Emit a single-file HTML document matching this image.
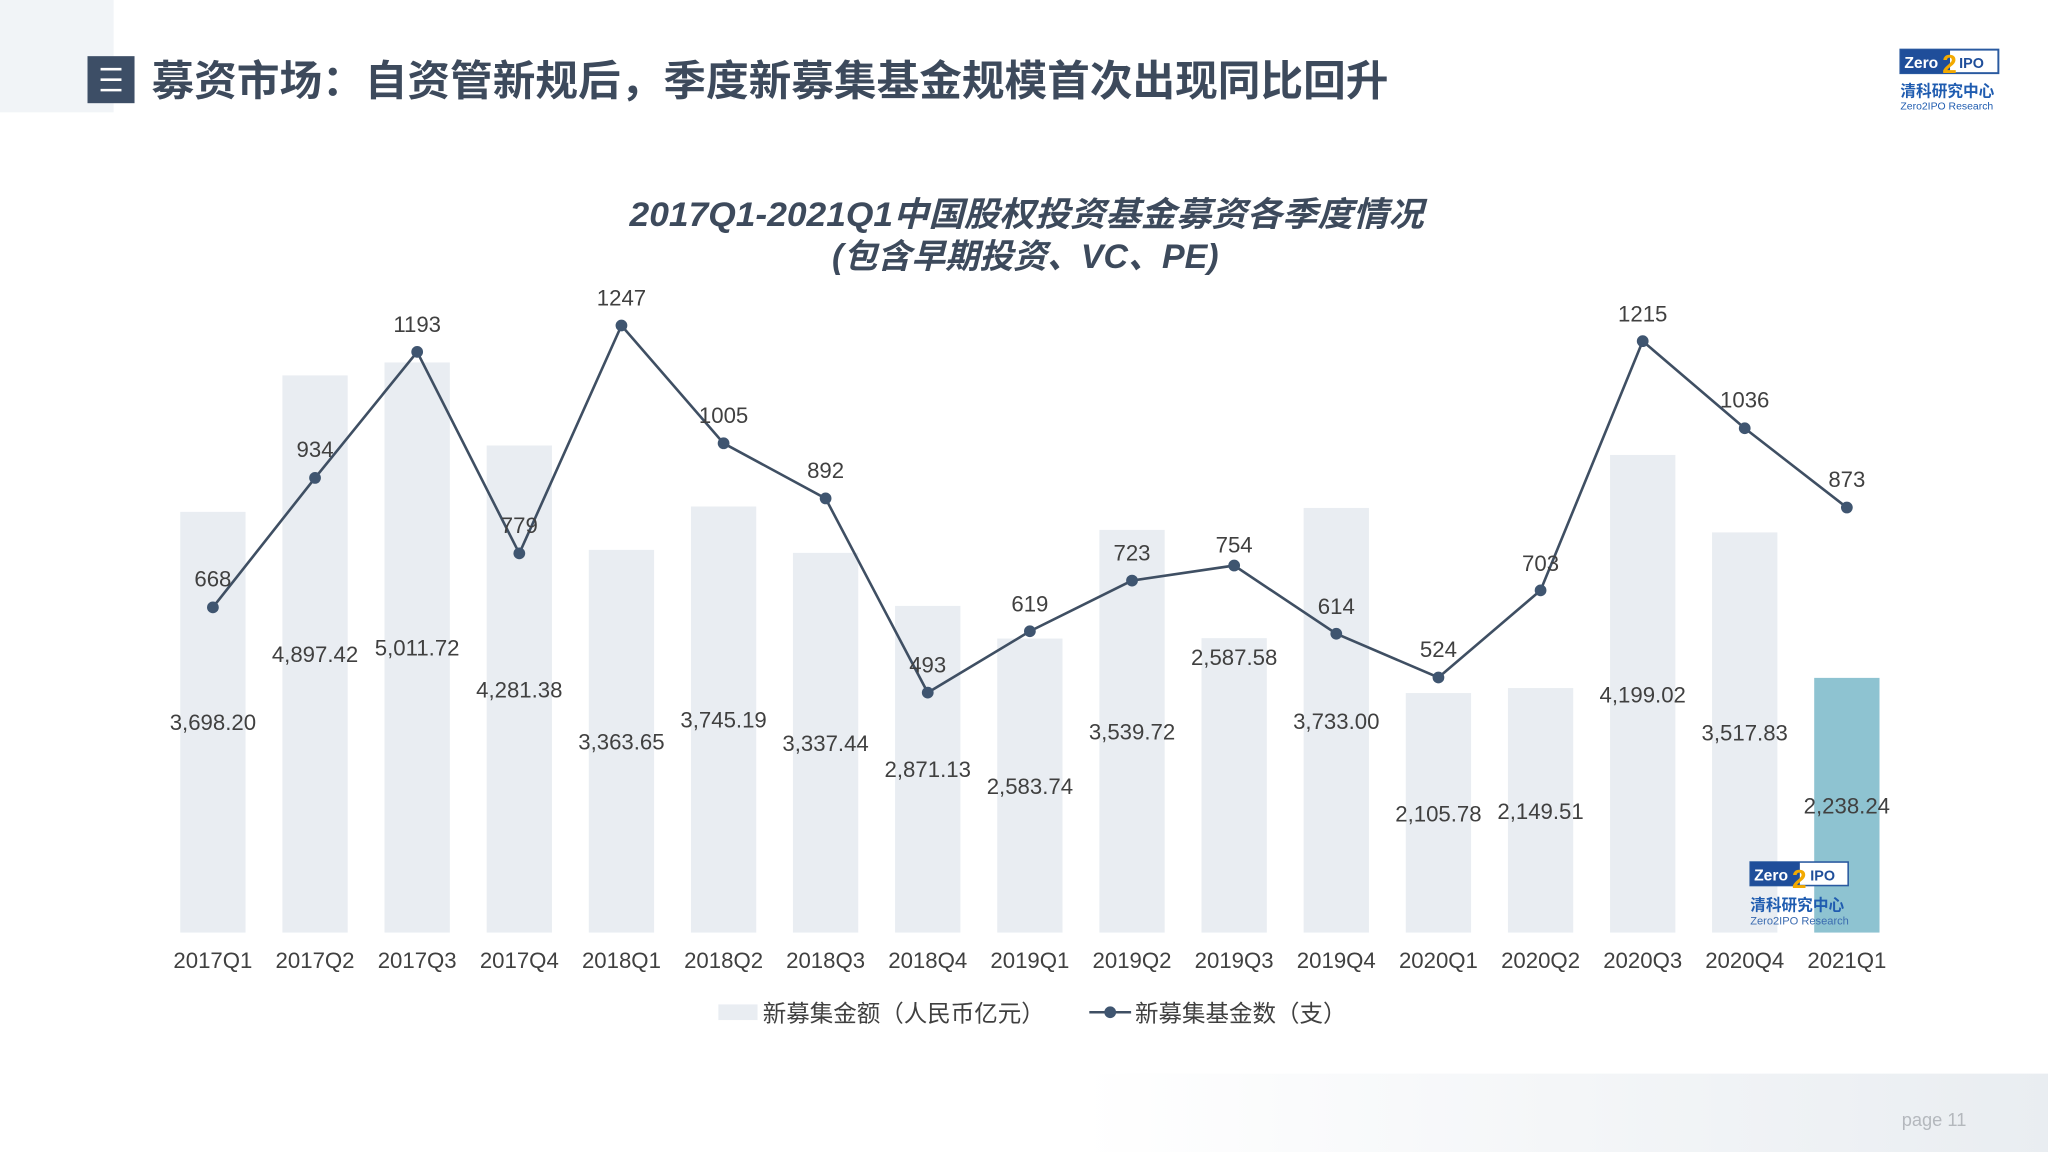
<!DOCTYPE html>
<html><head><meta charset="utf-8"><style>
html,body{margin:0;padding:0;background:#fff;}
svg{display:block;}
text{font-family:"Liberation Sans","Noto Sans CJK SC",sans-serif;}
</style></head><body>
<svg width="2048" height="1152" viewBox="0 0 1568 882" preserveAspectRatio="none" xmlns="http://www.w3.org/2000/svg">
<defs>
<linearGradient id="fg" x1="0" x2="1" y1="0" y2="0"><stop offset="0" stop-color="#ffffff"/><stop offset="1" stop-color="#e9edf1"/></linearGradient>
</defs>
<rect x="0" y="0" width="87" height="86" fill="#f1f4f7"/>
<rect x="828" y="822" width="740" height="60" fill="url(#fg)"/>
<text x="1456" y="862" font-size="14" fill="#b4b8bd">page  11</text>
<rect x="67" y="43" width="36" height="36" fill="#3d4e66"/>
<g stroke="#fff" stroke-width="2"><line x1="77" y1="53" x2="93" y2="53"/><line x1="77" y1="61" x2="93" y2="61"/><line x1="77" y1="69" x2="93" y2="69"/></g>
<text x="116" y="73" font-size="32" font-weight="bold" fill="#3d4a5c" textLength="947" lengthAdjust="spacingAndGlyphs">募资市场：自资管新规后，季度新募集基金规模首次出现同比回升</text>
<g>
<rect x="1455" y="38" width="75" height="18" fill="#fff" stroke="#2a5aa0" stroke-width="1.5"/>
<rect x="1455" y="38" width="38" height="18" fill="#1f4e9a"/>
<text x="1458" y="52" font-size="12" font-weight="bold" fill="#fff">Zero</text>
<text x="1500" y="52" font-size="11" font-weight="bold" fill="#1f4e9a">IPO</text>
<text x="1487" y="56" font-size="20" font-weight="bold" fill="#f2a900">2</text>
<text x="1455" y="74" font-size="12" font-weight="bold" fill="#1f5cb0">清科研究中心</text>
<text x="1455" y="84" font-size="8" fill="#1f5cb0">Zero2IPO Research</text>
</g>
<text x="482" y="173" font-size="26" font-weight="bold" font-style="italic" fill="#3d4a5c" textLength="608" lengthAdjust="spacingAndGlyphs">2017Q1-2021Q1中国股权投资基金募资各季度情况</text>
<text x="785" y="205" text-anchor="middle" font-size="26" font-weight="bold" font-style="italic" fill="#3d4a5c">(包含早期投资、VC、PE)</text>
<g fill="#e9edf2">
<rect x="138" y="391.9" width="50" height="322.1"/>
<rect x="216.2" y="287.4" width="50" height="426.6"/>
<rect x="294.4" y="277.5" width="50" height="436.5"/>
<rect x="372.6" y="341.1" width="50" height="372.9"/>
<rect x="450.8" y="421.0" width="50" height="293"/>
<rect x="529" y="387.8" width="50" height="326.2"/>
<rect x="607.1" y="423.3" width="50" height="290.7"/>
<rect x="685.3" y="463.9" width="50" height="250.1"/>
<rect x="763.5" y="488.9" width="50" height="225.1"/>
<rect x="841.7" y="405.7" width="50" height="308.3"/>
<rect x="919.9" y="488.6" width="50" height="225.4"/>
<rect x="998.1" y="388.9" width="50" height="325.1"/>
<rect x="1076.3" y="530.6" width="50" height="183.4"/>
<rect x="1154.5" y="526.8" width="50" height="187.2"/>
<rect x="1232.7" y="348.3" width="50" height="365.7"/>
<rect x="1310.8" y="407.6" width="50" height="306.4"/>
</g>
<rect x="1389" y="519" width="50" height="195" fill="#8ec3d1"/>
<g font-size="17" fill="#404040" text-anchor="middle">
<text x="163" y="559">3,698.20</text>
<text x="241.2" y="507">4,897.42</text>
<text x="319.4" y="502">5,011.72</text>
<text x="397.6" y="534">4,281.38</text>
<text x="475.8" y="574">3,363.65</text>
<text x="554" y="557">3,745.19</text>
<text x="632.1" y="575">3,337.44</text>
<text x="710.3" y="595">2,871.13</text>
<text x="788.5" y="608">2,583.74</text>
<text x="866.7" y="566">3,539.72</text>
<text x="944.9" y="509">2,587.58</text>
<text x="1023.1" y="558">3,733.00</text>
<text x="1101.3" y="629">2,105.78</text>
<text x="1179.5" y="627">2,149.51</text>
<text x="1257.7" y="538">4,199.02</text>
<text x="1335.8" y="567">3,517.83</text>
<text x="1414" y="623">2,238.24</text>
</g>
<g>
<rect x="1340" y="660" width="75" height="18" fill="#fff" stroke="#2a5aa0" stroke-width="1.2"/>
<rect x="1340" y="660" width="38" height="18" fill="#1f4e9a"/>
<text x="1343" y="674" font-size="12" font-weight="bold" fill="#fff">Zero</text>
<text x="1386" y="674" font-size="11" font-weight="bold" fill="#1f4e9a">IPO</text>
<text x="1372" y="680" font-size="20" font-weight="bold" fill="#f2a900">2</text>
<text x="1340" y="697" font-size="12" font-weight="bold" fill="#1f5cb0">清科研究中心</text>
<text x="1340" y="708" font-size="8.5" fill="#3b6bb0">Zero2IPO Research</text>
</g>
<polyline fill="none" stroke="#3f4f63" stroke-width="2" points="163,465 241.2,365.9 319.4,269.4 397.6,423.7 475.8,249.2 554,339.4 632.1,381.6 710.3,530.3 788.5,483.3 866.7,444.5 944.9,433 1023.1,485.2 1101.3,518.7 1179.5,452 1257.7,261.2 1335.8,327.9 1414,388.6"/>
<g fill="#3f5570">
<circle cx="163" cy="465" r="4.5"/><circle cx="241.2" cy="365.9" r="4.5"/><circle cx="319.4" cy="269.4" r="4.5"/><circle cx="397.6" cy="423.7" r="4.5"/><circle cx="475.8" cy="249.2" r="4.5"/><circle cx="554" cy="339.4" r="4.5"/><circle cx="632.1" cy="381.6" r="4.5"/><circle cx="710.3" cy="530.3" r="4.5"/><circle cx="788.5" cy="483.3" r="4.5"/><circle cx="866.7" cy="444.5" r="4.5"/><circle cx="944.9" cy="433" r="4.5"/><circle cx="1023.1" cy="485.2" r="4.5"/><circle cx="1101.3" cy="518.7" r="4.5"/><circle cx="1179.5" cy="452" r="4.5"/><circle cx="1257.7" cy="261.2" r="4.5"/><circle cx="1335.8" cy="327.9" r="4.5"/><circle cx="1414" cy="388.6" r="4.5"/>
</g>
<g font-size="17" fill="#404040" text-anchor="middle">
<text x="163" y="449">668</text><text x="241.2" y="350">934</text><text x="319.4" y="254">1193</text><text x="397.6" y="408">779</text><text x="475.8" y="234">1247</text><text x="554" y="324">1005</text><text x="632.1" y="366">892</text><text x="710.3" y="515">493</text><text x="788.5" y="468">619</text><text x="866.7" y="429">723</text><text x="944.9" y="423">754</text><text x="1023.1" y="470">614</text><text x="1101.3" y="503">524</text><text x="1179.5" y="437">703</text><text x="1257.7" y="246">1215</text><text x="1335.8" y="312">1036</text><text x="1414" y="373">873</text>
</g>
<g font-size="17" fill="#404040" text-anchor="middle">
<text x="163" y="741">2017Q1</text><text x="241.2" y="741">2017Q2</text><text x="319.4" y="741">2017Q3</text><text x="397.6" y="741">2017Q4</text><text x="475.8" y="741">2018Q1</text><text x="554" y="741">2018Q2</text><text x="632.1" y="741">2018Q3</text><text x="710.3" y="741">2018Q4</text><text x="788.5" y="741">2019Q1</text><text x="866.7" y="741">2019Q2</text><text x="944.9" y="741">2019Q3</text><text x="1023.1" y="741">2019Q4</text><text x="1101.3" y="741">2020Q1</text><text x="1179.5" y="741">2020Q2</text><text x="1257.7" y="741">2020Q3</text><text x="1335.8" y="741">2020Q4</text><text x="1414" y="741">2021Q1</text>
</g>
<rect x="550" y="769" width="30" height="12" fill="#e9edf2"/>
<text x="584" y="782" font-size="18" fill="#404040">新募集金额（人民币亿元）</text>
<line x1="834" y1="775" x2="866" y2="775" stroke="#3f4f63" stroke-width="2"/>
<circle cx="850" cy="775" r="4.5" fill="#3f5570"/>
<text x="869" y="782" font-size="18" fill="#404040">新募集基金数（支）</text>
</svg>
</body></html>
